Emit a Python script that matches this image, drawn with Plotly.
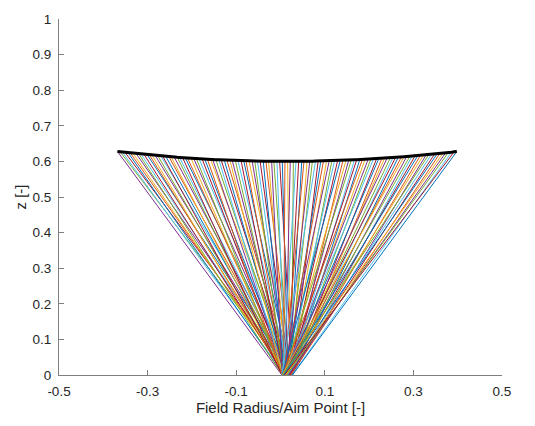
import plotly.graph_objects as go

# Receiver / top end points of each ray (field radius) and their heights
x_top = [-0.368, -0.362, -0.357, -0.351, -0.344, -0.339, -0.333, -0.326, -0.320, -0.315,
         -0.308, -0.301, -0.296, -0.290, -0.283, -0.277, -0.270, -0.266, -0.259, -0.252,
         -0.247, -0.240, -0.233, -0.228, -0.221, -0.215, -0.210, -0.202, -0.196, -0.190,
         -0.184, -0.177, -0.171, -0.165, -0.158, -0.153, -0.146, -0.139, -0.134, -0.127,
         -0.121, -0.114, -0.109, -0.102, -0.096, -0.089, -0.083, -0.078, -0.071, -0.064,
         -0.058, -0.052, -0.046, -0.039, -0.033, -0.027, -0.020, -0.015, -0.008, -0.002,
         0.004, 0.010,
         0.016, 0.022, 0.029, 0.035, 0.041, 0.048, 0.053, 0.060, 0.066, 0.072,
         0.079, 0.085, 0.091, 0.097, 0.104, 0.110, 0.116, 0.122, 0.129, 0.135,
         0.141, 0.148, 0.154, 0.160, 0.167, 0.172, 0.179, 0.185, 0.191, 0.198,
         0.204, 0.210, 0.217, 0.222, 0.229, 0.235, 0.241, 0.248, 0.254, 0.260,
         0.266, 0.273, 0.279, 0.285, 0.292, 0.297, 0.304, 0.310, 0.316, 0.323,
         0.329, 0.335, 0.341, 0.348, 0.354, 0.360, 0.367, 0.373, 0.379, 0.386,
         0.392, 0.398]

z_top = [0.6277, 0.6269, 0.6262, 0.6253, 0.6244, 0.6237, 0.6229, 0.6220, 0.6212, 0.6206,
         0.6197, 0.6189, 0.6183, 0.6176, 0.6168, 0.6161, 0.6154, 0.6149, 0.6142, 0.6135,
         0.6130, 0.6123, 0.6116, 0.6112, 0.6105, 0.6100, 0.6096, 0.6089, 0.6084, 0.6079,
         0.6075, 0.6070, 0.6065, 0.6061, 0.6057, 0.6053, 0.6049, 0.6045, 0.6042, 0.6038,
         0.6035, 0.6031, 0.6029, 0.6026, 0.6023, 0.6020, 0.6018, 0.6016, 0.6014, 0.6012,
         0.6010, 0.6008, 0.6007, 0.6006, 0.6004, 0.6003, 0.6002, 0.6002, 0.6001, 0.6001,
         0.6000, 0.6000,
         0.6000, 0.6000, 0.6000, 0.6001, 0.6001, 0.6002, 0.6003, 0.6004, 0.6005, 0.6006,
         0.6008, 0.6009, 0.6011, 0.6013, 0.6015, 0.6017, 0.6019, 0.6022, 0.6025, 0.6027,
         0.6030, 0.6033, 0.6037, 0.6040, 0.6044, 0.6047, 0.6051, 0.6055, 0.6059, 0.6063,
         0.6068, 0.6072, 0.6077, 0.6081, 0.6087, 0.6091, 0.6097, 0.6103, 0.6108, 0.6113,
         0.6119, 0.6126, 0.6132, 0.6138, 0.6145, 0.6150, 0.6158, 0.6164, 0.6171, 0.6179,
         0.6186, 0.6194, 0.6201, 0.6210, 0.6217, 0.6225, 0.6234, 0.6242, 0.6250, 0.6260,
         0.6269, 0.6277]

# Aim points on the ground (z = 0)
x_aim = [0.003, 0.021, 0.010, 0.026, 0.006, 0.017, 0.013, 0.024, 0.004, 0.019,
         0.009, 0.027, 0.014, 0.007, 0.022, 0.011, 0.025, 0.005, 0.016, 0.020,
         0.008, 0.023, 0.012, 0.018, 0.003, 0.026, 0.015, 0.009, 0.021, 0.006,
         0.024, 0.013, 0.017, 0.004, 0.027, 0.010, 0.019, 0.007, 0.022, 0.014,
         0.025, 0.005, 0.016, 0.011, 0.020, 0.008, 0.023, 0.012, 0.026, 0.018,
         0.006, 0.015, 0.021, 0.009, 0.024, 0.013, 0.004, 0.019, 0.010, 0.027,
         0.017, 0.007,
         0.022, 0.011, 0.025, 0.005, 0.016, 0.020, 0.008, 0.023, 0.012, 0.018,
         0.003, 0.026, 0.015, 0.009, 0.021, 0.006, 0.024, 0.013, 0.017, 0.004,
         0.027, 0.010, 0.019, 0.007, 0.022, 0.014, 0.025, 0.005, 0.016, 0.011,
         0.020, 0.008, 0.023, 0.012, 0.026, 0.018, 0.006, 0.015, 0.021, 0.009,
         0.024, 0.013, 0.004, 0.019, 0.010, 0.027, 0.017, 0.007, 0.022, 0.011,
         0.025, 0.005, 0.016, 0.020, 0.008, 0.023, 0.012, 0.018, 0.014, 0.026,
         0.009, 0.027]
z_aim = 0.0

x_ticks = [-0.5, -0.3, -0.1, 0.1, 0.3, 0.5]
x_tick_labels = ["-0.5", "-0.3", "-0.1", "0.1", "0.3", "0.5"]
y_ticks = [0, 0.1, 0.2, 0.3, 0.4, 0.5, 0.6, 0.7, 0.8, 0.9, 1]
y_tick_labels = ["0", "0.1", "0.2", "0.3", "0.4", "0.5", "0.6", "0.7", "0.8", "0.9", "1"]

colors = ["#0072BD", "#D95319", "#EDB120", "#7E2F8E", "#77AC30", "#4DBEEE", "#A2142F"]

fig = go.Figure()

# one trace per ray, drawn in order (MATLAB colour order cycling)
for i, (xt, zt, xa) in enumerate(zip(x_top, z_top, x_aim)):
    ci = (i + 3) % 7
    fig.add_trace(go.Scatter(x=[xt, xa], y=[zt, z_aim], mode="lines",
                             line=dict(color=colors[ci], width=1),
                             hoverinfo="skip", showlegend=False))

fig.add_trace(go.Scatter(x=x_top, y=z_top, mode="lines",
                         line=dict(color="black", width=3),
                         showlegend=False))

font = "Liberation Sans, Arial, Helvetica, sans-serif"
axis_common = dict(showgrid=False, zeroline=False, showline=True,
                   linecolor="#7f7f7f", linewidth=1, ticks="inside",
                   ticklen=5, tickcolor="#7f7f7f", mirror=False,
                   ticklabelstandoff=4,
                   tickfont=dict(family=font, size=13.5, color="#262626"))

fig.update_layout(
    width=535, height=426,
    margin=dict(l=59, r=33, t=17, b=49),
    paper_bgcolor="white", plot_bgcolor="white",
    xaxis=dict(range=[-0.5, 0.5], tickvals=x_ticks, ticktext=x_tick_labels,
               title=dict(text="Field Radius/Aim Point [-]", standoff=4,
                          font=dict(family=font, size=15, color="#262626")),
               **axis_common),
    yaxis=dict(range=[0, 1], tickvals=y_ticks, ticktext=y_tick_labels,
               title=dict(text="z [-]", standoff=2,
                          font=dict(family=font, size=15, color="#262626")),
               **axis_common),
)

fig.write_html("out.html")
